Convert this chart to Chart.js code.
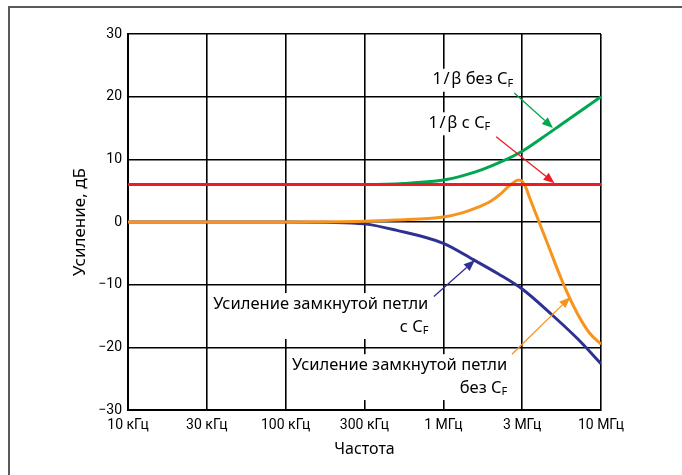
<!DOCTYPE html>
<html lang="ru">
<head>
<meta charset="utf-8">
<title>Усиление замкнутой петли</title>
<script src="https://cdn.jsdelivr.net/npm/chart.js@4.4.1/dist/chart.umd.min.js"></script>
<style>
  html, body { margin: 0; padding: 0; background: #fff; }
  #wrap { position: relative; width: 682px; height: 475px; overflow: hidden; }
  #frame { position: absolute; left: 8px; top: 6px; right: -4px; bottom: -4px;
           border-left: 2px solid #5a5a5a; border-top: 2px solid #5a5a5a; pointer-events: none; }
</style>
</head>
<body>
<div id="wrap">
  <canvas id="gainChart" width="682" height="475"></canvas>
  <div id="frame"></div>
</div>
<script>
// Ось X в оригинале равномерная: позиция 0..6 -> подпись частоты
const freqLabels = ['10 кГц', '30 кГц', '100 кГц', '300 кГц', '1 МГц', '3 МГц', '10 МГц'];

// 1/β с CF
const redX = [0, 6];
const redY = [6, 6];

// 1/β без CF
const greenX = [0, 1, 2, 3, 3.5, 4, 4.25, 4.5, 4.75, 5, 5.25, 5.5, 5.75, 6];
const greenY = [6, 6, 6, 6, 6.15, 6.7, 7.4, 8.4, 9.7, 11.3, 13.4, 15.6, 17.8, 20];

// Усиление замкнутой петли без CF
const orangeX = [0, 1, 2, 3, 3.4, 4, 4.25, 4.45, 4.6, 4.72, 4.82, 4.9, 4.95, 5.0, 5.05, 5.1, 5.19, 5.32, 5.52, 5.7, 5.86, 6];
const orangeY = [0, 0, 0, 0.1, 0.3, 0.8, 1.5, 2.4, 3.3, 4.4, 5.6, 6.4, 6.7, 6.5, 5.4, 3.7, 0.8, -3.4, -9.8, -14.6, -17.8, -19.5];

// Усиление замкнутой петли с CF
const blueX = [0, 1, 2, 2.5, 3, 3.4, 4, 4.38, 4.7, 5, 5.36, 5.7, 6];
const blueY = [0, 0, 0, -0.05, -0.3, -1.3, -3.4, -6.0, -8.3, -10.7, -14.6, -18.6, -22.6];

// стрелки-выноски (в единицах осей)
const arrows = [
  { from: [4.90, 20.6], to: [5.39, 15.0], color: '#00a651' },
  { from: [4.67, 13.6], to: [5.41, 6.2], color: '#ed1c24' },
  { from: [3.88, -11.9], to: [4.40, -6.1], color: '#2e3192' },
  { from: [4.87, -21.1], to: [5.61, -12.0], color: '#f7941d' }
];

// подписи: правый край и центры строк (в единицах осей)
const notes = [
  { x: 4.886, y: [22.7], lines: [['1\u200A/\u200Aβ без C', 'F']] },
  { x: 4.596, y: [15.75], lines: [['1\u200A/\u200Aβ с C', 'F']] },
  { x: 3.81, y: [-13.1, -16.75], lines: [['Усиление замкнутой петли', ''], ['с C', 'F']] },
  { x: 4.81, y: [-22.85, -26.5], lines: [['Усиление замкнутой петли', ''], ['без C', 'F']] }
];

const mainFont = '16.5px "Noto Sans"';
const subFont = '11px "Noto Sans"';

function toPoints(xs, ys) {
  return xs.map((x, i) => ({ x: x, y: ys[i] }));
}

function lineWidth(ctx, line) {
  ctx.font = mainFont;
  let w = ctx.measureText(line[0]).width;
  ctx.font = subFont;
  if (line[1]) w += ctx.measureText(line[1]).width;
  return w;
}

const notesPlugin = {
  id: 'notes',
  // белые подложки под подписями, поверх сетки
  beforeDatasetsDraw(chart) {
    const ctx = chart.ctx;
    const xs = chart.scales.x, ys = chart.scales.y;
    ctx.save();
    ctx.fillStyle = '#fff';
    notes.forEach(n => {
      const right = xs.getPixelForValue(n.x);
      let maxW = 0;
      n.lines.forEach(l => { maxW = Math.max(maxW, lineWidth(ctx, l)); });
      const top = ys.getPixelForValue(n.y[0]) - 11;
      const bottom = ys.getPixelForValue(n.y[n.y.length - 1]) + 12;
      ctx.fillRect(right - maxW - 4, top, maxW + 8, bottom - top);
    });
    ctx.restore();
  },
  afterDatasetsDraw(chart) {
    const ctx = chart.ctx;
    const xs = chart.scales.x, ys = chart.scales.y;
    ctx.save();
    ctx.fillStyle = '#000';
    ctx.textBaseline = 'middle';
    notes.forEach(n => {
      const right = xs.getPixelForValue(n.x);
      n.lines.forEach((l, i) => {
        const cy = ys.getPixelForValue(n.y[i]);
        const w = lineWidth(ctx, l);
        let x0 = right - w;
        ctx.font = mainFont;
        ctx.textAlign = 'left';
        ctx.fillText(l[0], x0, cy);
        if (l[1]) {
          x0 += ctx.measureText(l[0]).width;
          ctx.font = subFont;
          ctx.fillText(l[1], x0, cy + 4);
        }
      });
    });

    arrows.forEach(a => {
      const x1 = xs.getPixelForValue(a.from[0]), y1 = ys.getPixelForValue(a.from[1]);
      const x2 = xs.getPixelForValue(a.to[0]), y2 = ys.getPixelForValue(a.to[1]);
      const ang = Math.atan2(y2 - y1, x2 - x1);
      const headLen = 11, headW = 4.5;
      ctx.strokeStyle = a.color;
      ctx.fillStyle = a.color;
      ctx.lineWidth = 1.3;
      ctx.beginPath();
      ctx.moveTo(x1, y1);
      ctx.lineTo(x2 - headLen * Math.cos(ang), y2 - headLen * Math.sin(ang));
      ctx.stroke();
      ctx.beginPath();
      ctx.moveTo(x2, y2);
      ctx.lineTo(x2 - headLen * Math.cos(ang) + headW * Math.sin(ang),
                 y2 - headLen * Math.sin(ang) - headW * Math.cos(ang));
      ctx.lineTo(x2 - headLen * Math.cos(ang) - headW * Math.sin(ang),
                 y2 - headLen * Math.sin(ang) + headW * Math.cos(ang));
      ctx.closePath();
      ctx.fill();
    });
    ctx.restore();
  }
};

const tickFont = { family: 'Roboto', size: 14 };

new Chart(document.getElementById('gainChart'), {
  type: 'line',
  data: {
    datasets: [
      { label: '1/β с CF', data: toPoints(redX, redY), borderColor: '#ed1c24' },
      { label: 'Усиление замкнутой петли без CF', data: toPoints(orangeX, orangeY), borderColor: '#f7941d' },
      { label: '1/β без CF', data: toPoints(greenX, greenY), borderColor: '#00a651' },
      { label: 'Усиление замкнутой петли с CF', data: toPoints(blueX, blueY), borderColor: '#2e3192' }
    ].map(d => Object.assign(d, {
      borderWidth: 3,
      pointRadius: 0,
      fill: false,
      cubicInterpolationMode: 'monotone'
    }))
  },
  options: {
    responsive: false,
    animation: false,
    layout: { padding: { left: 0, right: 81, top: 34, bottom: 0 } },
    plugins: {
      legend: { display: false },
      tooltip: { enabled: false }
    },
    scales: {
      x: {
        type: 'linear',
        min: 0,
        max: 6,
        afterFit: s => { s.height = 65; },
        grid: { color: '#000', lineWidth: 1.6, drawTicks: false },
        border: { color: '#000', width: 2 },
        ticks: {
          stepSize: 1, padding: 7, color: '#000', font: tickFont,
          maxRotation: 0, autoSkip: false,
          callback: v => freqLabels[v]
        },
        title: { display: true, text: 'Частота', color: '#000', font: { family: 'Noto Sans', size: 16 }, padding: { top: 0, bottom: 16 } }
      },
      y: {
        min: -30,
        max: 30,
        afterFit: s => { s.width = 128; },
        grid: { color: '#000', lineWidth: 1.6, drawTicks: false },
        border: { color: '#000', width: 2 },
        ticks: {
          stepSize: 10, padding: 6, color: '#000', font: tickFont,
          callback: v => (v < 0 ? '\u2212' + Math.abs(v) : String(v))
        },
        title: { display: true, text: 'Усиление, дБ', color: '#000', font: { family: 'Noto Sans', size: 17 }, padding: { top: 70, bottom: 0 } }
      }
    }
  },
  plugins: [notesPlugin]
});
</script>
</body>
</html>
